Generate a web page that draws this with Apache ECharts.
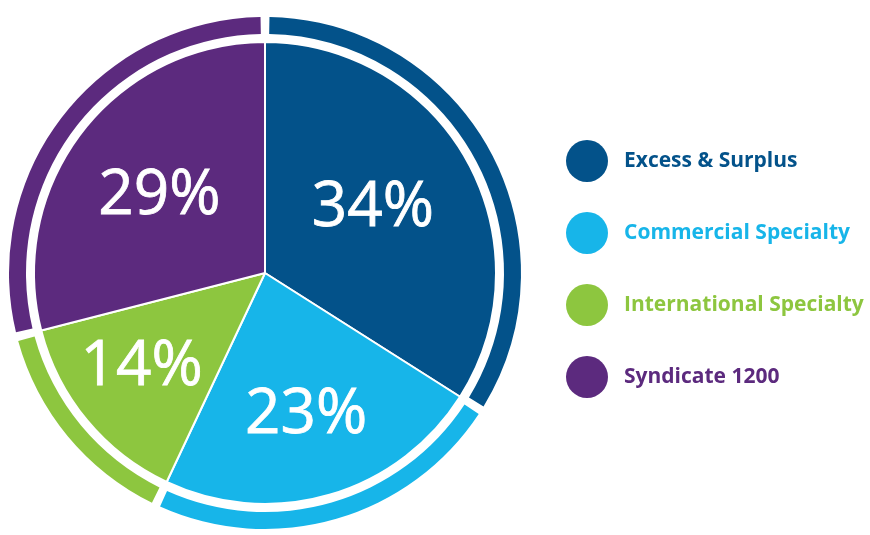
<!DOCTYPE html>
<html>
<head>
<meta charset="utf-8">
<script src="https://cdn.jsdelivr.net/npm/echarts@6/dist/echarts.min.js"></script>
<style>html,body{margin:0;padding:0;background:#fff;}#chart{width:870px;height:535px;}</style>
</head>
<body>
<div id="chart"></div>
<script>
var categories = ['Excess & Surplus', 'Commercial Specialty', 'International Specialty', 'Syndicate 1200'];
var values = [34, 23, 14, 29];
var colors = ['#03528A', '#17B5E9', '#8DC63F', '#5C2A7E'];
var labelShift = [[4, -8], [8, 29], [-32, 19], [-12, -4]];

var pieData = categories.map(function (c, i) {
  return { name: c, value: values[i], itemStyle: { color: colors[i] } };
});
var ringData = categories.map(function (c, i) {
  return { name: c, value: values[i], itemStyle: { color: colors[i] } };
});

var chart = echarts.init(document.getElementById('chart'), null, { renderer: 'canvas' });
chart.setOption({
  animation: false,
  backgroundColor: '#ffffff',
  legend: {
    orient: 'vertical',
    left: 566, top: 140,
    padding: 0,
    icon: 'circle',
    itemWidth: 42, itemHeight: 42, itemGap: 30,
    selectedMode: false,
    textStyle: { fontFamily: 'Open Sans', fontWeight: 'bold', fontSize: 21, padding: [0, 0, 0, 11] },
    data: categories.map(function (c, i) {
      return { name: c, textStyle: { color: colors[i] } };
    })
  },
  series: [
    {
      type: 'pie', name: 'ring',
      center: [265, 273], radius: [239, 256],
      startAngle: 90, clockwise: true,
      padAngle: 2,
      silent: true,
      label: { show: false }, labelLine: { show: false },
      emphasis: { disabled: true },
      data: ringData
    },
    {
      type: 'pie', name: 'main',
      center: [265, 273], radius: [0, 231],
      startAngle: 90, clockwise: true,
      silent: true,
      itemStyle: { borderColor: '#ffffff', borderWidth: 2 },
      label: {
        show: true, position: 'inside',
        formatter: '{c}%',
        color: '#ffffff', fontFamily: 'Open Sans', fontSize: 62, fontWeight: 'normal',
        textBorderColor: '#ffffff', textBorderWidth: 0.8
      },
      labelLayout: function (p) {
        var s = labelShift[p.dataIndex];
        return { dx: s[0], dy: s[1] };
      },
      labelLine: { show: false },
      emphasis: { disabled: true },
      data: pieData
    }
  ]
});
</script>
</body>
</html>
